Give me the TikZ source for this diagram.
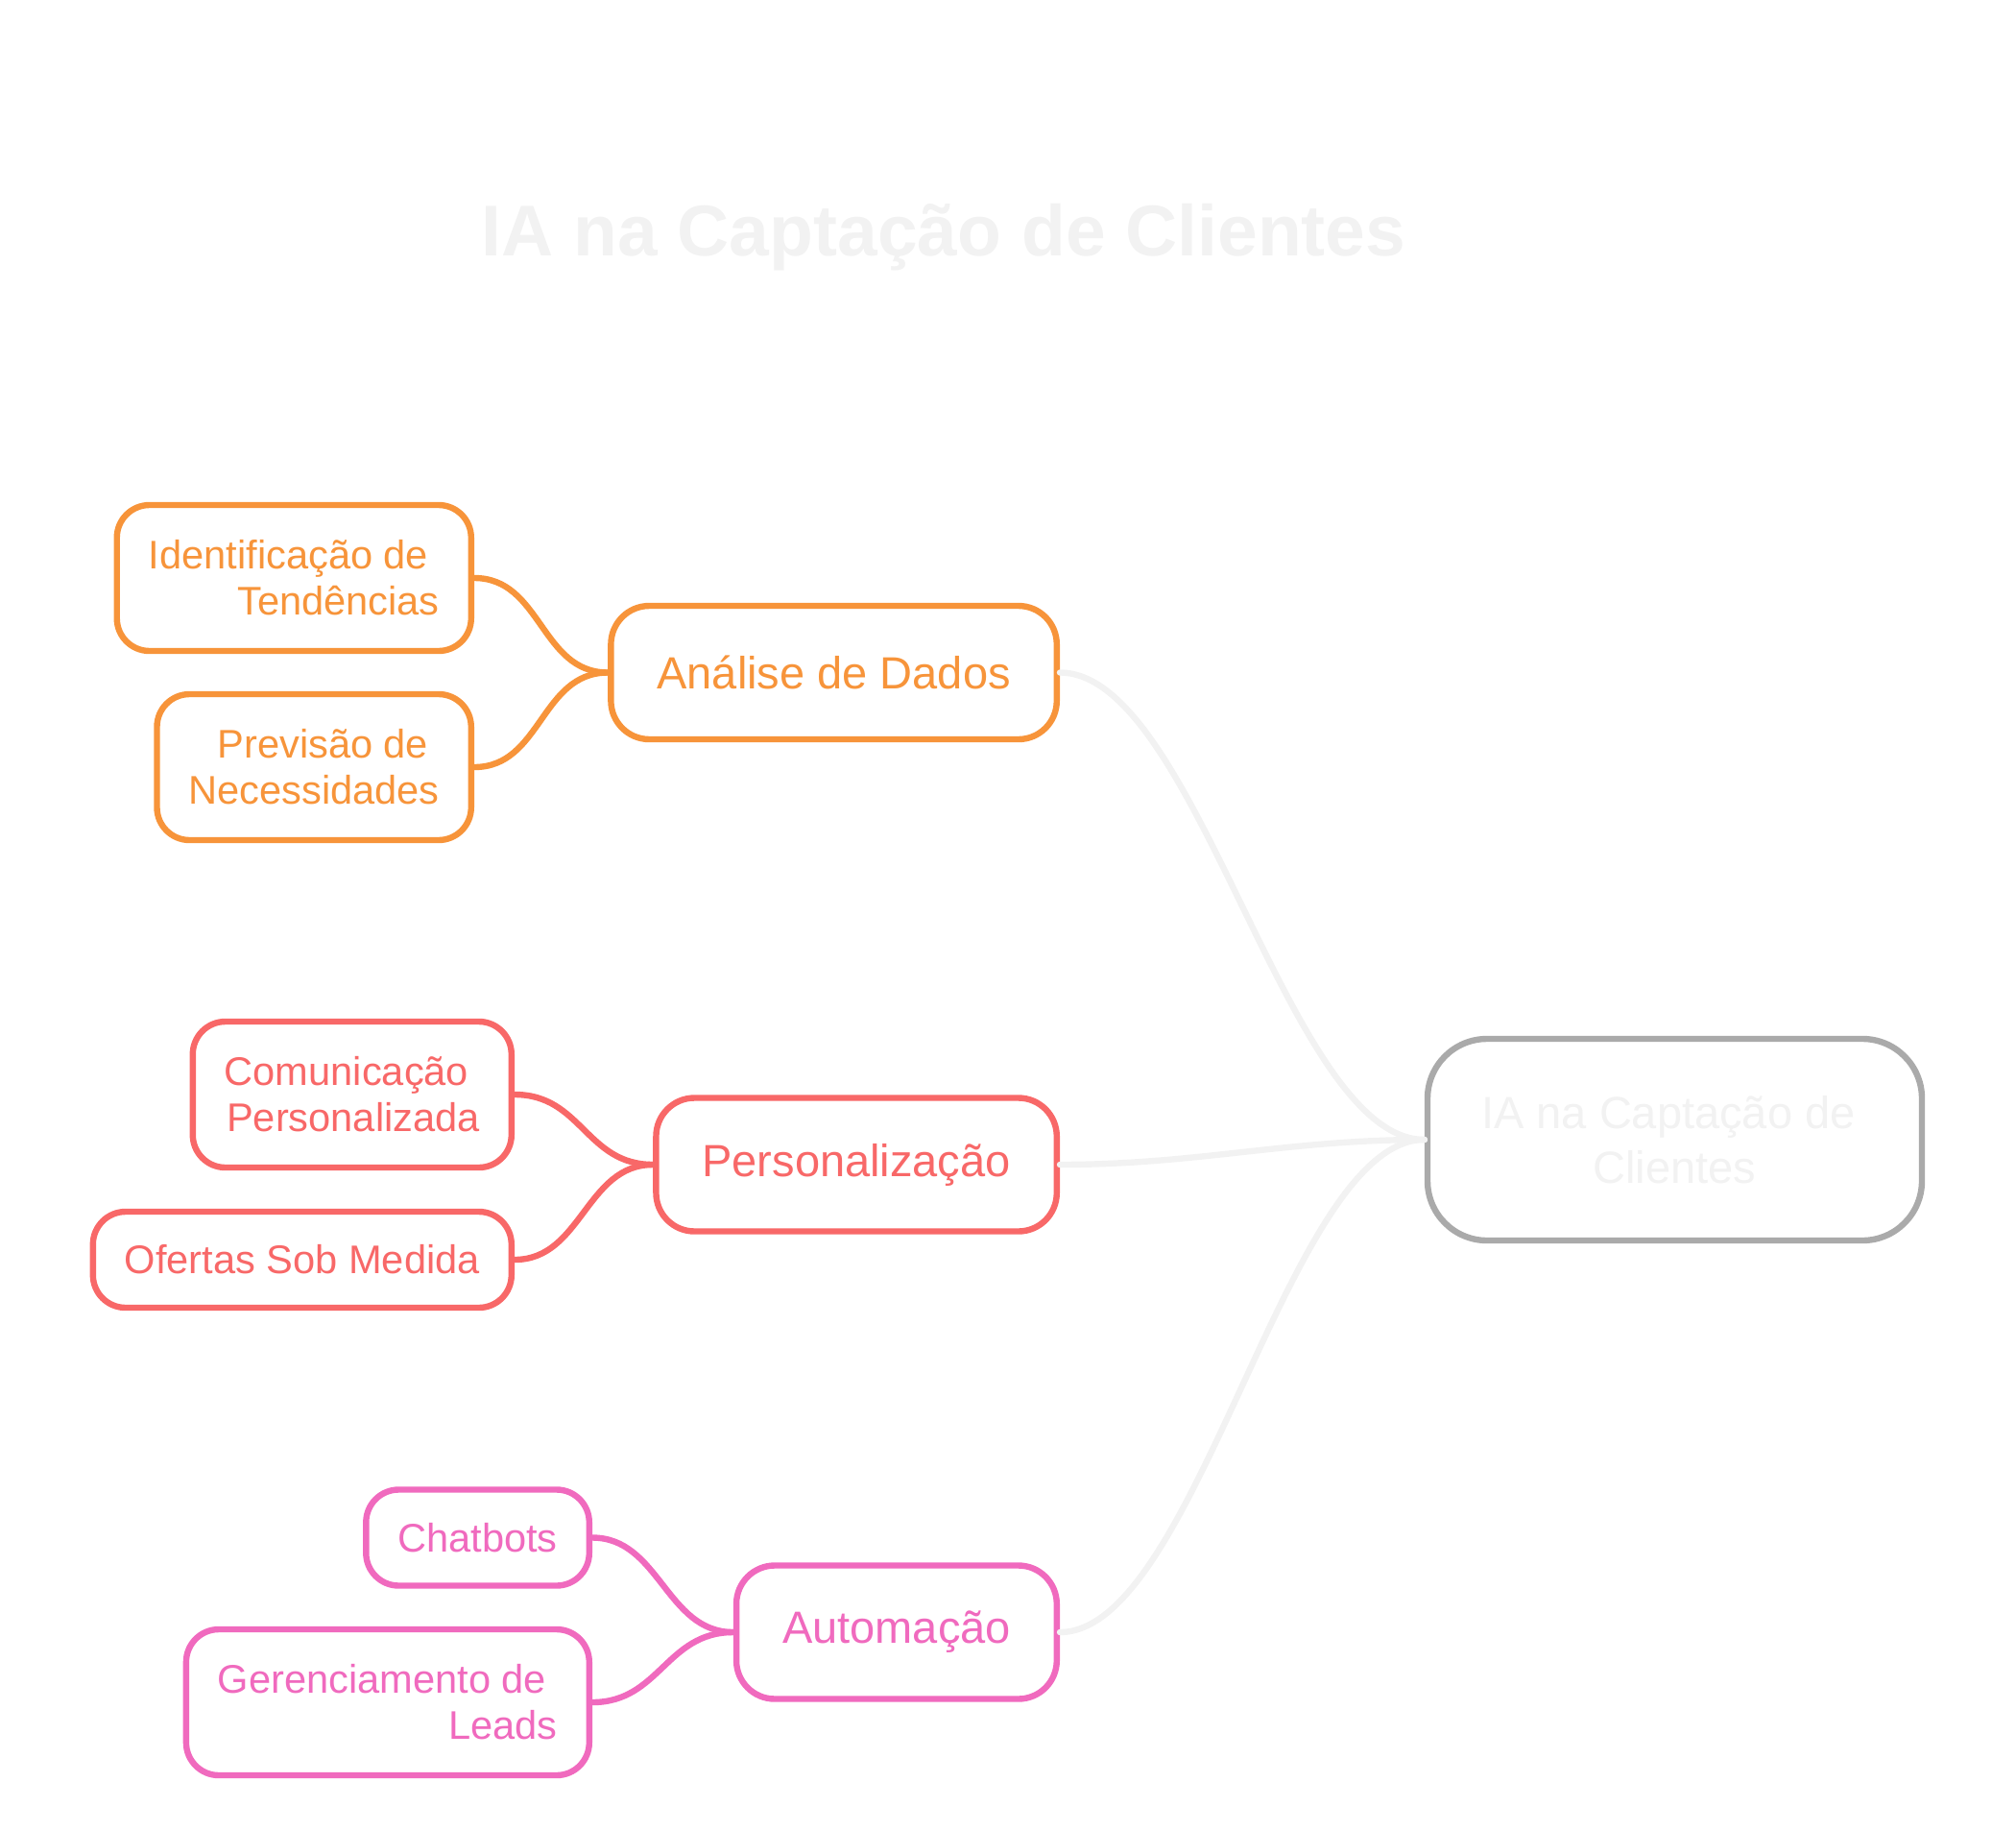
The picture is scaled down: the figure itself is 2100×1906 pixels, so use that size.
\documentclass[tikz,border=0pt]{standalone}
\usepackage{fontspec}
\setmainfont{Liberation Sans}
\definecolor{laranja}{HTML}{F7943A}
\definecolor{coral}{HTML}{F86868}
\definecolor{rosa}{HTML}{F06ABE}
\definecolor{cinza}{HTML}{AAAAAA}
\definecolor{claro}{HTML}{F2F2F2}

\begin{document}
\begin{tikzpicture}[x=0.5pt, y=-0.5pt,
    root/.style={draw=cinza, line width=3.2pt, rounded corners=31pt, fill=white, text=claro, minimum width=257.5pt, minimum height=105pt, align=center, font=\fontsize{23.5}{28.8}\selectfont},
    branch/.style={draw=#1, text=#1, line width=3.2pt, rounded corners=20pt, fill=white, minimum height=69.5pt, inner xsep=24pt, anchor=east, font=\fontsize{23.5}{28.8}\selectfont},
    leaf/.style={draw=#1, text=#1, line width=3.2pt, rounded corners=17pt, fill=white, minimum height=50pt, inner xsep=16.5pt, inner ysep=3pt, align=right, anchor=east, font=\fontsize{20.8}{24}\selectfont},
    tall/.style={minimum height=76pt},
    trunk/.style={draw=claro, line width=3.2pt, line cap=round},
    twig/.style={draw=#1, line width=3.2pt, line cap=round}
]
\useasboundingbox (0,0) rectangle (2100,1906);

% Title
\node[anchor=base, text=claro, font=\fontsize{37.5}{44}\selectfont\bfseries] (title) at (983,266) {IA na Captação de Clientes};

% Nodes
\node[root] (ctr) at (1744.5,1187) {IA na Captação de\hspace*{0.28em}\\Clientes};

\node[branch=laranja] (anl) at (1104,700.5) {Análise de Dados};
\node[branch=coral] (pers) at (1104,1213) {Personalização};
\node[branch=rosa] (auto) at (1104,1700) {Automação};

\node[leaf=laranja, tall] (idt) at (494,602) {Identificação de\hspace*{0.28em}\\Tendências};
\node[leaf=laranja, tall] (prv) at (494,799) {Previsão de\hspace*{0.28em}\\Necessidades};
\node[leaf=coral, tall] (com) at (536,1140) {Comunicação\hspace*{0.28em}\\Personalizada};
\node[leaf=coral] (ofe) at (536,1312) {Ofertas Sob Medida};
\node[leaf=rosa] (chat) at (617,1601.5) {Chatbots};
\node[leaf=rosa, tall] (ger) at (617,1773) {Gerenciamento de\hspace*{0.28em}\\Leads};

% Edges
\draw[trunk] (anl.east) .. controls +(143,0) and +(-143,0) .. (ctr.west);
\draw[trunk] (pers.east) .. controls +(143,0) and +(-143,0) .. (ctr.west);
\draw[trunk] (auto.east) .. controls +(143,0) and +(-143,0) .. (ctr.west);

\draw[twig=laranja] (idt.east) .. controls +(70,0) and +(-70,0) .. (anl.west);
\draw[twig=laranja] (prv.east) .. controls +(70,0) and +(-70,0) .. (anl.west);
\draw[twig=coral] (com.east) .. controls +(70,0) and +(-70,0) .. (pers.west);
\draw[twig=coral] (ofe.east) .. controls +(70,0) and +(-70,0) .. (pers.west);
\draw[twig=rosa] (chat.east) .. controls +(70,0) and +(-70,0) .. (auto.west);
\draw[twig=rosa] (ger.east) .. controls +(70,0) and +(-70,0) .. (auto.west);

\end{tikzpicture}
\end{document}
